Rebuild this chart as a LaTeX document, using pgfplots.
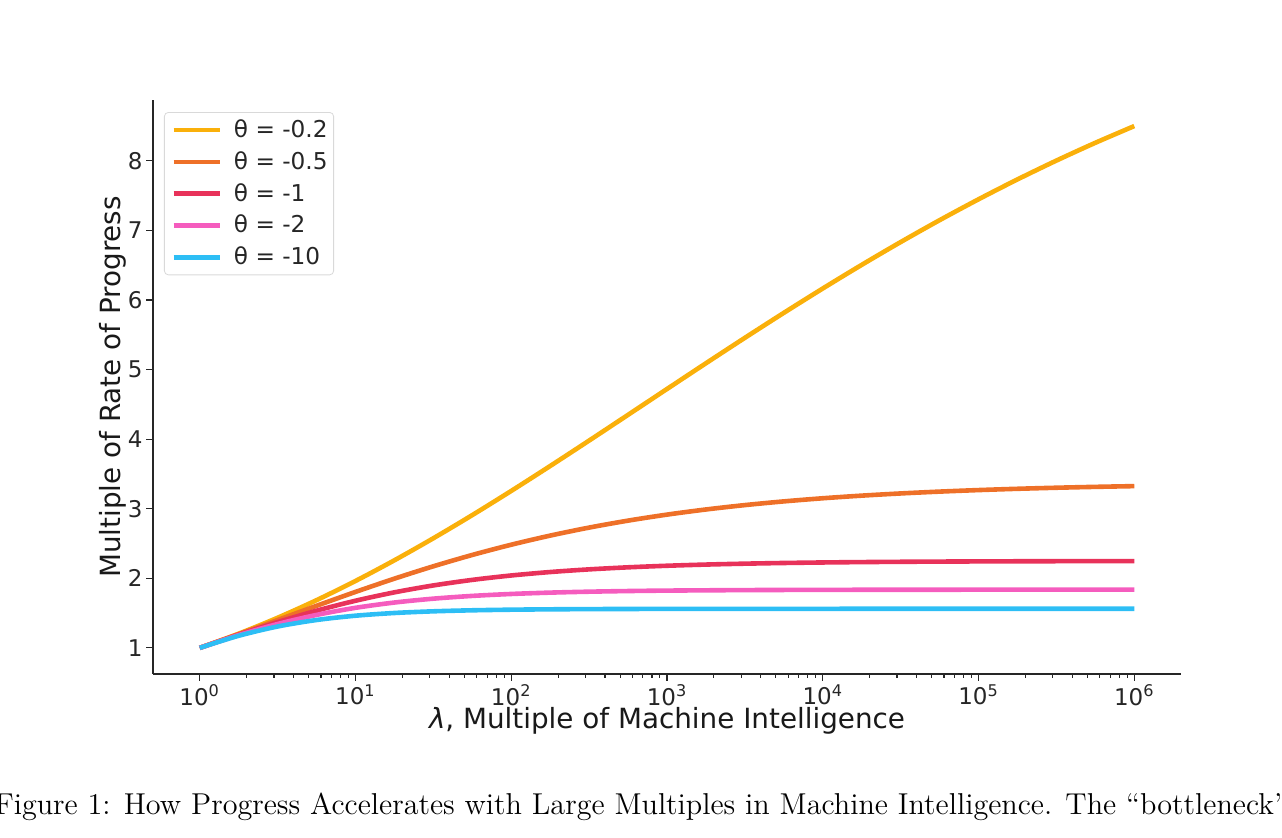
\documentclass[border=0pt]{standalone}
\usepackage{fontspec}
\usepackage{pgfplots}
\pgfplotsset{compat=1.18}
\newfontfamily\dejavu{DejaVu Sans}
\definecolor{cyel}{RGB}{250,176,10}
\definecolor{cora}{RGB}{238,112,40}
\definecolor{cred}{RGB}{232,50,90}
\definecolor{cpink}{RGB}{245,92,190}
\definecolor{cblue}{RGB}{45,190,245}
\begin{document}
\begin{tikzpicture}
\useasboundingbox (0,0) rectangle (641pt,419pt);
\clip (0,0) rectangle (641pt,419pt);
\begin{axis}[
  at={(76.5pt,82pt)}, anchor=south west,
  scale only axis, width=514pt, height=287pt,
  xmode=log, xmin=0.501187, xmax=1995262,
  ymin=0.625, ymax=8.875,
  axis lines=left,
  axis line style={-, draw=black!85, line width=0.7pt},
  tick align=outside,
  major tick length=3.5pt, minor tick length=2pt,
  tick style={draw=black!85, line width=0.6pt},
  xtick={1,10,100,1000,10000,100000,1000000},
  xticklabels={10\textsuperscript{0},10\textsuperscript{1},10\textsuperscript{2},10\textsuperscript{3},10\textsuperscript{4},10\textsuperscript{5},10\textsuperscript{6}},
  ytick={1,2,3,4,5,6,7,8},
  /pgf/number format/assume math mode=true,
  tick label style={font=\dejavu\fontsize{11.5}{13}\selectfont, text=black!85, inner sep=1.5pt},
  xlabel={\textit{λ}, Multiple of Machine Intelligence},
  ylabel={Multiple of Rate of Progress},
  label style={font=\dejavu\fontsize{13.9}{16}\selectfont, text=black!90},
  xlabel style={at={(axis description cs:0.5,-0.082)}, anchor=center},
  ylabel style={at={(axis description cs:-0.0389,0.5)}, anchor=center},
  legend style={at={(0.0107,0.979)}, anchor=north west, draw=black!15, rounded corners=2pt,
    font=\dejavu\fontsize{11.6}{14}\selectfont, text=black!85, inner xsep=1pt, inner ysep=1.6pt,
    row sep=1.5pt, cells={anchor=west}},
  legend image code/.code={\path (-2.5pt,0pt); \draw[#1] (0pt,0pt) -- (23pt,0pt);},
  every axis plot/.append style={line width=2.3pt},
]
\addplot[cyel, smooth] coordinates {
(1,1) (1.778279,1.2041) (3.162278,1.4330) (5.623413,1.6860) (10,1.9618)
(17.78279,2.2592) (31.62278,2.5758) (56.23413,2.9090) (100,3.2562)
(177.8279,3.6142) (316.2278,3.9797) (562.3413,4.3497) (1000,4.7211)
(1778.279,5.0909) (3162.278,5.4564) (5623.413,5.8153) (10000,6.1654)
(17782.79,6.5050) (31622.78,6.8326) (56234.13,7.1470) (100000,7.4474)
(177827.9,7.7331) (316227.8,8.0038) (562341.3,8.2594) (1000000,8.4999)};
\addlegendentry{\hspace{4pt}θ = -0.2}
\addplot[cora, smooth] coordinates {
(1,1) (1.778279,1.1971) (3.162278,1.4006) (5.623413,1.6049) (10,1.8045)
(17.78279,1.9950) (31.62278,2.1728) (56.23413,2.3359) (100,2.4830)
(177.8279,2.6139) (316.2278,2.7290) (562.3413,2.8291) (1000,2.9155)
(1778.279,2.9894) (3162.278,3.0523) (5623.413,3.1056) (10000,3.1505)
(17782.79,3.1882) (31622.78,3.2198) (56234.13,3.2462) (100000,3.2682)
(177827.9,3.2866) (316227.8,3.3018) (562341.3,3.3144) (1000000,3.3249)};
\addlegendentry{\hspace{4pt}θ = -0.5}
\addplot[cred, smooth] coordinates {
(1,1) (1.778279,1.1902) (3.162278,1.3708) (5.623413,1.5346) (10,1.6776)
(17.78279,1.7983) (31.62278,1.8976) (56.23413,1.9775) (100,2.0408)
(177.8279,2.0903) (316.2278,2.1286) (562.3413,2.1580) (1000,2.1805)
(1778.279,2.1976) (3162.278,2.2105) (5623.413,2.2203) (10000,2.2277)
(17782.79,2.2332) (31622.78,2.2374) (56234.13,2.2405) (100000,2.2429)
(177827.9,2.2447) (316227.8,2.2460) (562341.3,2.2470) (1000000,2.2478)};
\addlegendentry{\hspace{4pt}θ = -1}
\addplot[cpink, smooth] coordinates {
(1,1) (1.778279,1.1835) (3.162278,1.3433) (5.623413,1.4740) (10,1.5758)
(17.78279,1.6520) (31.62278,1.7075) (56.23413,1.7471) (100,1.7750)
(177.8279,1.7944) (316.2278,1.8078) (562.3413,1.8171) (1000,1.8234)
(3162.278,1.8307) (10000,1.8342) (31622.78,1.8357) (100000,1.8365)
(316227.8,1.8369) (1000000,1.8370)};
\addlegendentry{\hspace{4pt}θ = -2}
\addplot[cblue, smooth] coordinates {
(1,1) (1.778279,1.1742) (3.162278,1.3075) (5.623413,1.4009) (10,1.4626)
(17.78279,1.5016) (31.62278,1.5257) (56.23413,1.5403) (100,1.5491)
(177.8279,1.5543) (316.2278,1.5575) (562.3413,1.5593) (1000,1.5604)
(3162.278,1.5615) (10000,1.5618) (100000,1.5621) (1000000,1.5621)};
\addlegendentry{\hspace{4pt}θ = -10}
\end{axis}
\node[anchor=base west, inner sep=0pt, font=\fontsize{12}{14}\selectfont, scale=1.258, transform shape] at (-3pt,11.5pt)
  {Figure 1: How Progress Accelerates with Large Multiples in Machine Intelligence. The ``bottleneck''};
\end{tikzpicture}
\end{document}
